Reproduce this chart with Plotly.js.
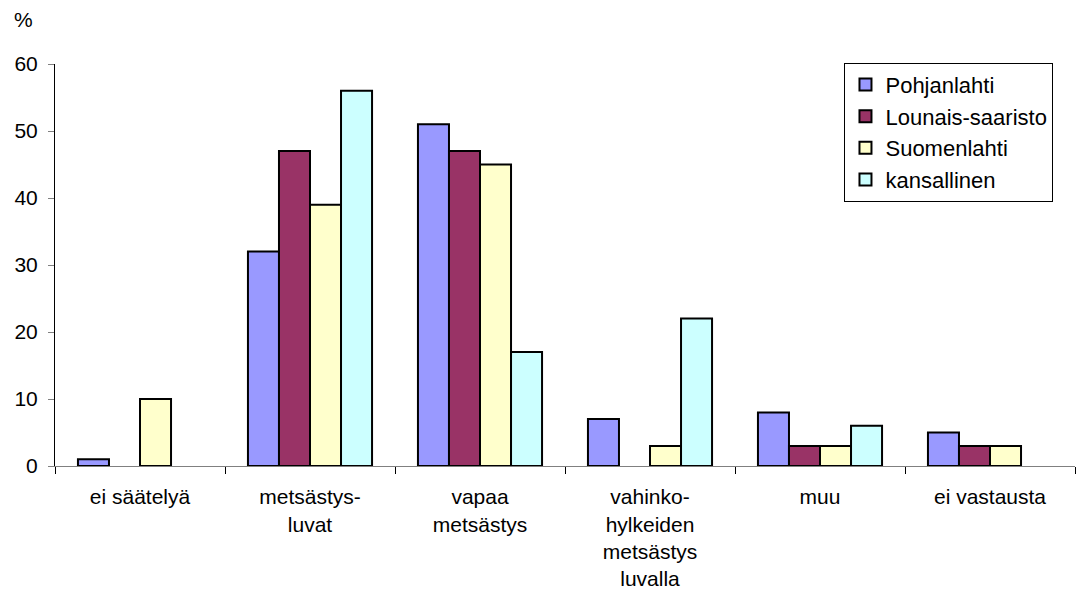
<!DOCTYPE html>
<html>
<head>
<meta charset="utf-8">
<script src="https://cdn.plot.ly/plotly-3.0.1.min.js"></script>
<style>html,body{margin:0;padding:0;background:#fff;}#chart{width:1081px;height:601px;}</style>
</head>
<body>
<div id="chart"></div>
<script>
const categories = ["ei säätelyä", "metsästys-<br>luvat", "vapaa<br>metsästys", "vahinko-<br>hylkeiden<br>metsästys<br>luvalla", "muu", "ei vastausta"];
const seriesNames = ["Pohjanlahti", "Lounais-saaristo", "Suomenlahti", "kansallinen"];
const pohjanlahti = [1, 32, 51, 7, 8, 5];
const lounaisSaaristo = [0, 47, 47, 0, 3, 3];
const suomenlahti = [10, 39, 45, 3, 3, 3];
const kansallinen = [0, 56, 17, 22, 6, 0];
const yTicks = [0, 10, 20, 30, 40, 50, 60];

const colors = ["#9999FF", "#993366", "#FFFFCC", "#CCFFFF"];
const values = [pohjanlahti, lounaisSaaristo, suomenlahti, kansallinen];

const traces = values.map((v, i) => ({
  type: "bar",
  name: seriesNames[i],
  x: categories,
  y: v.map(d => d === 0 ? null : d),
  marker: {color: colors[i], line: {color: "#000", width: 2}},
  hoverinfo: "x+y+name"
}));

const font = {family: "Liberation Sans, Arial, sans-serif", size: 21, color: "#000"};
const legendFont = {family: "Liberation Sans, Arial, sans-serif", size: 22, color: "#000"};

const layout = {
  width: 1081, height: 601,
  margin: {l: 55, r: 6, t: 64, b: 135},
  paper_bgcolor: "#fff", plot_bgcolor: "#fff",
  font: font,
  barmode: "group",
  bargap: 0.27,
  bargroupgap: 0,
  showlegend: true,
  legend: {
    x: 0.774, y: 1.003, xanchor: "left", yanchor: "top",
    bgcolor: "#fff", bordercolor: "#000", borderwidth: 1,
    font: legendFont, tracegroupgap: 0, itemwidth: 30
  },
  xaxis: {
    type: "category",
    showline: true, linecolor: "#808080", linewidth: 1,
    ticks: "outside", tickson: "boundaries", ticklen: 7, tickcolor: "#000",
    ticklabelstandoff: 12,
    showgrid: false, zeroline: false,
    tickfont: font, automargin: false
  },
  yaxis: {
    range: [0, 60],
    tickvals: yTicks,
    showline: true, linecolor: "#000", linewidth: 1,
    ticks: "outside", ticklen: 6, tickcolor: "#808080",
    ticklabelstandoff: 6,
    showgrid: false, zeroline: false,
    tickfont: font, automargin: false
  },
  annotations: [{
    text: "%", xref: "paper", yref: "paper", x: -0.042, y: 1.11,
    xanchor: "left", yanchor: "middle", showarrow: false, font: font
  }]
};

Plotly.newPlot("chart", traces, layout, {displayModeBar: false, staticPlot: true});
</script>
</body>
</html>
